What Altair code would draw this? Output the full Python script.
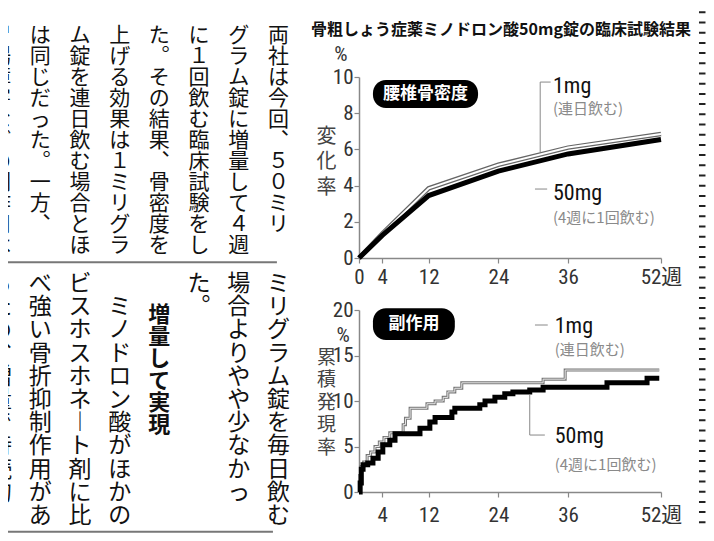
import altair as alt
import pandas as pd

# ------------------------------------------------------------------ data
TITLE = "骨粗しょう症薬ミノドロン酸50mg錠の臨床試験結果"

# newspaper columns, read right to left (vertical writing)
TOP_COLUMNS = [
    "両社は今回、　５０ミリ",
    "グラム錠に増量して４週",
    "に１回飲む臨床試験をし",
    "た。その結果、骨密度を",
    "上げる効果は１ミリグラ",
    "ム錠を連日飲む場合とほ",
    "は同じだった。　一方、",
    "胃腸障害などの副作用は",
]
BOTTOM_COLUMNS = [
    "ミリグラム錠を毎日飲む",
    "場合よりやや少なかっ",
    "た。",
    "増量して実現",
    "　ミノドロン酸がほかの",
    "ビスホスホネート剤に比",
    "べ強い骨折抑制作用があ",
    "るため、増量で持続的",
]
HEADING_INDEX = 3

# lumbar bone mineral density, % change
BMD_WEEKS = [0, 4, 12, 24, 36, 52]
BMD_1MG = [0, 1.35, 3.85, 5.15, 6.1, 6.85]
BMD_50MG = [0, 1.25, 3.45, 4.8, 5.75, 6.55]

# cumulative incidence of side effects, %
AE_1MG_WEEKS = [0, 0.1, 0.3, 0.8, 1.4, 2.0, 2.75, 3.5, 4.3, 5.3, 7.6, 8.0, 8.8,
                11.7, 13.1, 14.5, 15.3, 16.5, 17.7, 31.7, 35.5, 51.7]
AE_1MG = [0, 1.8, 2.8, 3.3, 4.0, 4.4, 5.0, 5.5, 6.0, 6.5, 7.4, 8.1, 9.2,
          9.7, 10.0, 10.4, 11.0, 11.4, 12.0, 12.4, 13.4, 13.4]
AE_50MG_WEEKS = [0, 0.2, 0.4, 0.7, 1.5, 2.4, 3.3, 4.1, 5.3, 6.2, 10.5, 12.2, 13.1,
                 16.0, 16.5, 20.8, 21.7, 23.4, 25.1, 26.5, 29.4, 31.7, 42.7, 49.6, 51.7]
AE_50MG = [0, 1.0, 2.5, 3.0, 3.2, 3.7, 4.4, 5.2, 5.7, 6.4, 7.0, 7.7, 8.2,
           8.8, 9.2, 9.6, 10.0, 10.4, 10.8, 11.0, 11.2, 11.5, 12.0, 12.5, 12.5]

X_TICKS_TOP = [0, 4, 12, 24, 36, 52]
X_TICKS_BOTTOM = [4, 12, 24, 36, 52]
Y_TICKS_TOP = [0, 2, 4, 6, 8, 10]
Y_TICKS_BOTTOM = [0, 5, 10, 15, 20]

DOSE_LABELS = ["1mg", "50mg"]
REGIMEN_LABELS = ["(連日飲む)", "(4週に1回飲む)"]
PANEL_LABELS = ["腰椎骨密度", "副作用"]
Y_TITLES = [["変", "化", "率"], ["累", "積", "発", "現", "率"]]

# ------------------------------------------------------------------ styles
CJK = "Noto Sans CJK JP"
NARROW = "Liberation Sans Narrow, Roboto Condensed, DejaVu Sans Condensed, Noto Sans CJK JP, sans-serif"
GRAY = "#888888"

# ------------------------------------------------------------------ left: vertical newspaper text
VERT = str.maketrans({"、": "︑", "。": "︒", "ー": "︱"})


def stack(s):
    return "\n".join(s.translate(VERT))


top_text = pd.DataFrame({
    "col": list(range(len(TOP_COLUMNS))),
    "cell": [0] * len(TOP_COLUMNS),
    "txt": [stack(s) for s in TOP_COLUMNS],
})
body_idx = [i for i in range(len(BOTTOM_COLUMNS)) if i != HEADING_INDEX]
bottom_text = pd.DataFrame({
    "col": body_idx,
    "cell": [0] * len(body_idx),
    "txt": [stack(BOTTOM_COLUMNS[i]) for i in body_idx],
})
heading_text = pd.DataFrame({
    "col": [HEADING_INDEX],
    "cell": [1.38],
    "txt": [stack(BOTTOM_COLUMNS[HEADING_INDEX])],
})
top_sep = pd.DataFrame({"x": [7.3], "x2": [0.04], "y": [11.3]})
bottom_sep = pd.DataFrame({"x": [7.3], "x2": [0.14], "y": [11.15]})

COLX = alt.Scale(domain=[0, 7], range=[270.5, -7.5])
TOPY = alt.Scale(domain=[0, 11], range=[12, 243])
BOTY = alt.Scale(domain=[0, 11], range=[260, 515.2])


def column_text(df, yscale, size, lh, weight="normal"):
    return alt.Chart(df).mark_text(
        align="center", baseline="top", lineBreak="\n", lineHeight=lh,
        font=CJK, fontSize=size, fontWeight=weight, color="#111111", clip=True,
    ).encode(
        x=alt.X("col:Q", scale=COLX, axis=None),
        y=alt.Y("cell:Q", scale=yscale, axis=None),
        text="txt:N",
    )


def separator(df, yscale):
    return alt.Chart(df).mark_rule(color="#777777", strokeWidth=2, clip=True).encode(
        x=alt.X("x:Q", scale=COLX, axis=None),
        x2="x2:Q",
        y=alt.Y("y:Q", scale=yscale, axis=None),
    )


left = alt.layer(
    column_text(top_text, TOPY, 21, 21),
    separator(top_sep, TOPY),
    column_text(bottom_text, BOTY, 23, 23.2),
    column_text(heading_text, BOTY, 22, 22, "bold"),
    separator(bottom_sep, BOTY),
).resolve_scale(y="independent").properties(width=341, height=520)

# ------------------------------------------------------------------ right: charts
WEEKS = alt.Scale(domain=[0, 52], nice=False, zero=False)
PCT_TOP = alt.Scale(domain=[0, 10], nice=False)
PCT_BOT = alt.Scale(domain=[0, 20], nice=False)


def x_axis(values, pad):
    return alt.Axis(values=values, title=None, grid=False, labelPadding=pad,
                    labelFlush=False, labelOverlap=False,
                    labelExpr="datum.value == 52 ? '52週' : datum.label")


def y_axis(values, title, title_y, lh, size):
    return alt.Axis(values=values, title=title, grid=False, labelPadding=1,
                    labelOverlap=False, titleAngle=0, titleX=-33, titleY=title_y,
                    titleAlign="center", titleBaseline="top", titleLineHeight=lh,
                    titleFontSize=size, titleFont=CJK, titleFontWeight="normal",
                    titleColor="#444444")


class Panel:
    """Holds the shared scales and axes of one chart panel."""

    def __init__(self, yscale, xaxis, yaxis):
        self.yscale = yscale
        self.xaxis = xaxis
        self.yaxis = yaxis

    def x(self, field):
        return alt.X(field, scale=WEEKS, axis=self.xaxis)

    def y(self, field):
        return alt.Y(field, scale=self.yscale, axis=self.yaxis)


def annotations(p, pill, pill_text, pct, leaders, doses, regimens):
    return [
        alt.Chart(pd.DataFrame([pill])).mark_rect(color="black", cornerRadius=13).encode(
            x=p.x("x1:Q"), x2="x2:Q", y=p.y("y1:Q"), y2="y2:Q"),
        alt.Chart(pd.DataFrame([pill_text])).mark_text(
            font=CJK, fontSize=17, fontWeight="bold", color="white").encode(
            x=p.x("x:Q"), y=p.y("y:Q"), text="t:N"),
        alt.Chart(pd.DataFrame([pct])).mark_text(
            font=NARROW, fontSize=21, color="#333333").encode(
            x=p.x("x:Q"), y=p.y("y:Q"), text="t:N"),
        alt.Chart(pd.DataFrame(leaders)).mark_rule(color=GRAY, strokeWidth=1).encode(
            x=p.x("x:Q"), x2="x2:Q", y=p.y("y:Q"), y2="y2:Q"),
        alt.Chart(pd.DataFrame(doses)).mark_text(
            align="left", baseline="middle", font=NARROW, fontSize=22, color="#111111").encode(
            x=p.x("x:Q"), y=p.y("y:Q"), text="t:N"),
        alt.Chart(pd.DataFrame(regimens)).mark_text(
            align="left", baseline="middle", font=CJK, fontSize=15, color="#8a8a8a").encode(
            x=p.x("x:Q"), y=p.y("y:Q"), text="t:N"),
    ]


# --- top panel: bone density
PT = Panel(PCT_TOP, x_axis(X_TICKS_TOP, 3), y_axis(Y_TICKS_TOP, Y_TITLES[0], 49, 25.5, 20))
bmd_1 = pd.DataFrame({"week": BMD_WEEKS, "pct": BMD_1MG})
bmd_50 = pd.DataFrame({"week": BMD_WEEKS, "pct": BMD_50MG})

top_outline = alt.Chart(bmd_1).mark_line(color="#666666", strokeWidth=4.5).encode(
    x=PT.x("week:Q"), y=PT.y("pct:Q"))
top_inner = alt.Chart(bmd_1).mark_line(color="white", strokeWidth=2).encode(
    x=PT.x("week:Q"), y=PT.y("pct:Q"))
top_black = alt.Chart(bmd_50).mark_line(color="black", strokeWidth=5).encode(
    x=PT.x("week:Q"), y=PT.y("pct:Q"))

cut_line = alt.Chart(pd.DataFrame({"x": [59.1], "y1": [13.63], "y2": [-15.0]})).mark_rule(
    color="#222222", strokeWidth=6.5, strokeDash=[2, 8.2]).encode(
    x=PT.x("x:Q"), y=PT.y("y1:Q"), y2="y2:Q")

top_ann = annotations(
    PT,
    {"x1": 2.4, "x2": 20.5, "y1": 8.29, "y2": 9.83},
    {"x": 11.45, "y": 9.06, "t": PANEL_LABELS[0]},
    {"x": -3.1, "y": 11.2, "t": "%"},
    [{"x": 31.2, "y": 5.85, "x2": 31.2, "y2": 9.72},
     {"x": 31.2, "y": 9.72, "x2": 33.0, "y2": 9.72},
     {"x": 30.3, "y": 3.81, "x2": 32.4, "y2": 3.81}],
    [{"x": 33.4, "y": 9.5, "t": DOSE_LABELS[0]}, {"x": 33.4, "y": 3.6, "t": DOSE_LABELS[1]}],
    [{"x": 33.4, "y": 8.23, "t": REGIMEN_LABELS[0]}, {"x": 33.4, "y": 2.2, "t": REGIMEN_LABELS[1]}],
)
top_chart = alt.layer(top_outline, top_inner, top_black, *top_ann, cut_line).properties(
    width=302, height=181)

# --- bottom panel: side effects
PB = Panel(PCT_BOT, x_axis(X_TICKS_BOTTOM, 7), y_axis(Y_TICKS_BOTTOM, Y_TITLES[1], 38, 22.5, 19))
ae_1 = pd.DataFrame({"week": AE_1MG_WEEKS, "pct": AE_1MG})
ae_50 = pd.DataFrame({"week": AE_50MG_WEEKS, "pct": AE_50MG})

bot_outline = alt.Chart(ae_1).mark_line(color="#777777", strokeWidth=3, interpolate="step-after").encode(
    x=PB.x("week:Q"), y=PB.y("pct:Q"))
bot_inner = alt.Chart(ae_1).mark_line(color="#e8e8e8", strokeWidth=1, interpolate="step-after").encode(
    x=PB.x("week:Q"), y=PB.y("pct:Q"))
bot_black = alt.Chart(ae_50).mark_line(color="black", strokeWidth=5, interpolate="step-after").encode(
    x=PB.x("week:Q"), y=PB.y("pct:Q"))

bot_ann = annotations(
    PB,
    {"x1": 2.4, "x2": 16.5, "y1": 16.7, "y2": 20.2},
    {"x": 9.45, "y": 18.45, "t": PANEL_LABELS[1]},
    {"x": -2.75, "y": 17.1, "t": "%"},
    [{"x": 30.3, "y": 18.35, "x2": 32.5, "y2": 18.35},
     {"x": 29.4, "y": 10.66, "x2": 29.4, "y2": 6.26},
     {"x": 29.4, "y": 6.26, "x2": 32.0, "y2": 6.26}],
    [{"x": 33.7, "y": 18.2, "t": DOSE_LABELS[0]}, {"x": 33.7, "y": 6.15, "t": DOSE_LABELS[1]}],
    [{"x": 33.7, "y": 15.6, "t": REGIMEN_LABELS[0]}, {"x": 33.7, "y": 2.97, "t": REGIMEN_LABELS[1]}],
)
bottom_chart = alt.layer(bot_outline, bot_inner, bot_black, *bot_ann).properties(
    width=302, height=182)

# --- spacer carrying the headline
spacer = alt.Chart(pd.DataFrame({"t": [""]})).mark_text().encode(text="t:N").properties(
    width=302, height=12,
    title=alt.TitleParams(TITLE, orient="bottom", anchor="middle", dx=-9, dy=-3, offset=0,
                          font=CJK, fontSize=16, fontWeight="bold", color="#111111"),
)

right = alt.VConcatChart(vconcat=[spacer, top_chart, bottom_chart], spacing=52, bounds="flush")

chart = alt.HConcatChart(hconcat=[left, right], spacing=10, bounds="flush").properties(
    padding=0, background="white"
).configure_view(stroke=None).configure_axis(
    domainColor=GRAY, domainWidth=1.5, tickColor=GRAY, tickWidth=1.2, tickSize=5,
    labelFont=NARROW, labelFontSize=21, labelColor="#333333",
)

chart.save("out.html", embed_options={"renderer": "svg", "actions": False})
